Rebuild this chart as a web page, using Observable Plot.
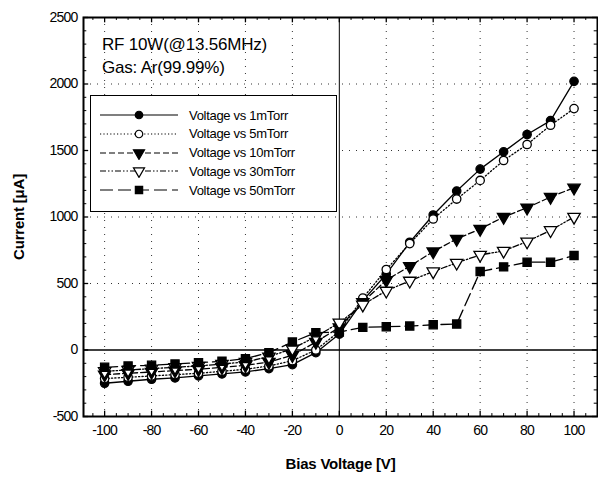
<!DOCTYPE html>
<html><head><meta charset="utf-8">
<script src="https://cdn.jsdelivr.net/npm/d3@7"></script>
<script src="https://cdn.jsdelivr.net/npm/@observablehq/plot@0.6"></script>
<style>
body{margin:0;background:#fff;}
#wrap{position:relative;width:598px;height:478px;font-family:"Liberation Sans",Arial,sans-serif;}
#note{position:absolute;left:102px;top:33px;font-family:"Liberation Sans",Arial,sans-serif;font-size:17px;line-height:23px;color:#000;letter-spacing:-0.2px;}
#legend{position:absolute;left:90px;top:95px;width:245px;height:115px;border:1.5px solid #000;background:#fff;}
.row{position:absolute;left:0;height:18px;display:flex;align-items:center;}
.row svg{display:block;margin-left:9px;}
.row span{margin-left:11px;font-size:13px;letter-spacing:-0.3px;}
</style></head><body><div id="wrap"></div>
<script>
const voltage = [-100,-90,-80,-70,-60,-50,-40,-30,-20,-10,0,10,20,30,40,50,60,70,80,90,100];
const current1mTorr  = [-250,-235,-220,-210,-195,-180,-165,-140,-110,-20,120,370,570,810,1015,1195,1360,1490,1620,1725,2020];
const current5mTorr  = [-215,-205,-195,-185,-175,-160,-145,-120,-80,0,140,390,605,800,985,1135,1275,1425,1545,1690,1815];
const current10mTorr = [-185,-175,-165,-155,-145,-130,-115,-90,-40,60,170,360,525,630,740,835,910,1000,1070,1150,1220];
const current30mTorr = [-160,-150,-140,-130,-120,-105,-90,-50,10,100,205,340,445,520,590,655,715,745,815,900,1000];
const current50mTorr = [-130,-120,-115,-105,-95,-85,-65,-20,60,130,135,170,175,180,190,195,590,625,660,660,710];
const seriesNames = ["Voltage vs 1mTorr","Voltage vs 5mTorr","Voltage vs 10mTorr","Voltage vs 30mTorr","Voltage vs 50mTorr"];
const xTicks = [-100,-80,-60,-40,-20,0,20,40,60,80,100];
const yTicks = [-500,0,500,1000,1500,2000,2500];
const noteLines = ["RF 10W(@13.56MHz)","Gas: Ar(99.99%)"];

const seriesValues = [current1mTorr,current5mTorr,current10mTorr,current30mTorr,current50mTorr];
const styles = [
  {symbol:"circle", fill:"black", rotate:0, dash:null, r:4.2},
  {symbol:"circle", fill:"white", rotate:0, dash:"1.2,2.2", r:4.2},
  {symbol:"triangle", fill:"black", rotate:180, dash:"6,3", r:4.6},
  {symbol:"triangle", fill:"white", rotate:180, dash:"6,2,1.5,2,1.5,2", r:4.6},
  {symbol:"square", fill:"black", rotate:0, dash:"13,5", r:4.6}
];
const data = seriesNames.map((name,i)=>voltage.map((v,j)=>({name, x:v, y:seriesValues[i][j]})));

const xMinor = d3.range(-105,110,5).filter(d=>d%20!==0);
const yMinor = d3.range(-400,2500,100).filter(d=>d%500!==0);
const xDom=[-109,110], yDom=[-500,2500];
const font='"Liberation Sans",Arial,sans-serif';

const marks = [
  Plot.ruleX(xTicks.filter(d=>d!==0), {stroke:"#333", strokeDasharray:"1,6", strokeWidth:1}),
  Plot.ruleY(yTicks.filter(d=>d!==0 && d!==-500 && d!==2500), {stroke:"#333", strokeDasharray:"1,6", strokeWidth:1}),
  Plot.ruleX([0], {stroke:"black", strokeWidth:1}),
  Plot.ruleY([0], {stroke:"black", strokeWidth:1.6}),
  Plot.ruleX(xTicks, {x:d=>d, y1:-500, y2:-460, stroke:"black", strokeWidth:1.3}),
  Plot.ruleX(xTicks, {x:d=>d, y1:2500, y2:2460, stroke:"black", strokeWidth:1.3}),
  Plot.ruleX(xMinor, {x:d=>d, y1:-500, y2:-478, stroke:"black", strokeWidth:1}),
  Plot.ruleX(xMinor, {x:d=>d, y1:2500, y2:2478, stroke:"black", strokeWidth:1}),
  Plot.ruleY(yTicks, {y:d=>d, x1:-109, x2:-106.8, stroke:"black", strokeWidth:1.3}),
  Plot.ruleY(yTicks, {y:d=>d, x1:110, x2:107.8, stroke:"black", strokeWidth:1.3}),
  Plot.ruleY(yMinor, {y:d=>d, x1:-109, x2:-107.6, stroke:"black", strokeWidth:1}),
  Plot.ruleY(yMinor, {y:d=>d, x1:110, x2:108.6, stroke:"black", strokeWidth:1}),
  Plot.frame({stroke:"black", strokeWidth:2})
];
data.forEach((d,i)=>{
  const s=styles[i];
  marks.push(Plot.line(d,{x:"x",y:"y",stroke:"black",strokeWidth:1.3,strokeDasharray:s.dash||undefined}));
});
data.forEach((d,i)=>{
  const s=styles[i];
  marks.push(Plot.dot(d,{x:"x",y:"y",symbol:s.symbol,r:s.r,fill:s.fill,stroke:"black",strokeWidth:1.3,rotate:s.rotate}));
});
marks.push(Plot.axisX(xTicks,{tickSize:0,tickPadding:9,fontSize:14,tickFormat:d=>String(d),label:"Bias Voltage [V]",labelArrow:"none",labelAnchor:"center",labelOffset:52}));
marks.push(Plot.axisY(yTicks,{tickSize:0,tickPadding:6,fontSize:14,tickFormat:d=>String(d),label:"Current [μA]",labelArrow:"none",labelAnchor:"center",labelOffset:70}));

const chart = Plot.plot({
  width:598, height:478,
  marginLeft:83, marginRight:1, marginTop:17, marginBottom:62,
  x:{domain:xDom}, y:{domain:yDom},
  style:{fontFamily:font, fontSize:"14px", color:"black", background:"white"},
  marks
});
chart.querySelectorAll("[aria-label='x-axis tick label'] text, [aria-label='y-axis tick label'] text").forEach(t=>{t.style.letterSpacing="-0.8px";});
chart.querySelectorAll("[aria-label='x-axis label'] text, [aria-label='y-axis label'] text").forEach(t=>{t.style.fontWeight="bold";t.style.fontSize="15px";t.style.letterSpacing="-0.2px";});
const wrap=document.getElementById("wrap");
wrap.appendChild(chart);

const note=document.createElement("div"); note.id="note";
note.innerHTML=noteLines.map(t=>`<div>${t}</div>`).join("");
wrap.appendChild(note);

const leg=document.createElement("div"); leg.id="legend";
seriesNames.forEach((name,i)=>{
  const s=styles[i];
  const row=document.createElement("div"); row.className="row"; row.style.top=(10+i*18.8)+"px";
  const sym = d3.symbol(s.symbol==="circle"?d3.symbolCircle:s.symbol==="square"?d3.symbolSquare:d3.symbolTriangle, Math.PI*s.r*s.r*0.8)();
  row.innerHTML=`<svg width="78" height="14"><line x1="0" x2="78" y1="7" y2="7" stroke="black" stroke-width="1.2" ${s.dash?`stroke-dasharray="${s.dash}"`:""}/><path d="${sym}" transform="translate(39,7) rotate(${s.rotate})" fill="${s.fill}" stroke="black" stroke-width="1.2"/></svg><span>${name}</span>`;
  leg.appendChild(row);
});
wrap.appendChild(leg);
</script></body></html>
